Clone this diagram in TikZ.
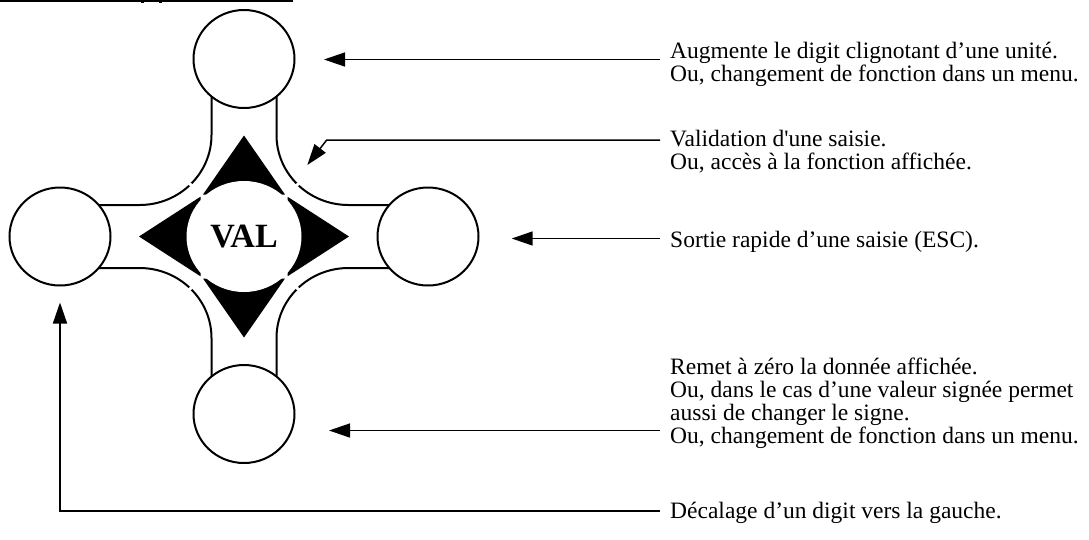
\documentclass[tikz,border=0pt]{standalone}
\usepackage{fontspec}
\setmainfont{Liberation Serif}[Ligatures=TeXOff]
\usetikzlibrary{arrows.meta,shapes.geometric}
\begin{document}
\begin{tikzpicture}[x=1pt,y=-1pt,
  key/.style={ellipse,draw,line width=2pt,fill=white,minimum width=101pt,minimum height=98pt,inner sep=0pt},
  outline/.style={line width=2pt},
  pointer/.style={line width=1.5pt,-{Triangle[length=21pt,width=14pt]}},
  desc/.style={anchor=base west,align=left,inner sep=0pt,font=\fontsize{23.5}{23}\selectfont}]
\useasboundingbox (0,0) rectangle (1089,539);
% remnant of the heading underline
\draw[line width=1.5pt] (0,0.75) -- (293,0.75);
\fill (141,0) rectangle (144,3);
\fill (159,0) rectangle (162,3);
% cross outline
\draw[outline] (211.5,80) -- (211.5,135) arc[start angle=0,end angle=90,x radius=72,y radius=70] -- (80,205);
\draw[outline] (276.5,80) -- (276.5,135) arc[start angle=180,end angle=90,x radius=72,y radius=70] -- (408,205);
\draw[outline] (80,268) -- (139.5,268) arc[start angle=270,end angle=360,x radius=72,y radius=70] -- (211.5,395);
\draw[outline] (276.5,395) -- (276.5,338) arc[start angle=180,end angle=270,x radius=72,y radius=70] -- (408,268);
% black direction triangles
\fill (244,135.5) -- (285,194.5) -- (203,194.5) -- cycle;
\fill (139,236.5) -- (200.5,196.7) -- (200.5,276.3) -- cycle;
\fill (349,236.5) -- (287.5,196.7) -- (287.5,276.3) -- cycle;
\fill (244,337.5) -- (203,278.5) -- (285,278.5) -- cycle;
\draw[white,line width=3pt] (174,168.6) -- (314,304.4);
\draw[white,line width=3pt] (174,304.4) -- (314,168.6);
\node[ellipse,fill=white,minimum width=115pt,minimum height=111pt,inner sep=0pt,font=\fontsize{34}{36}\selectfont\bfseries] (val) at (244,236.5) {VAL};
% keys
\node[key] (up) at (244,59) {};
\node[key] (left) at (60,236.5) {};
\node[key] (right) at (428,236.5) {};
\node[key] (down) at (244,414) {};
% descriptions (base anchor = baseline of the last line)
\node[desc] (t1) at (670,81) {Augmente le digit clignotant d’une unité.\\Ou, changement de fonction dans un menu.};
\node[desc] (t2) at (670,169) {Validation d'une saisie.\\Ou, accès à la fonction affichée.};
\node[desc] (t3) at (670,247) {Sortie rapide d’une saisie (ESC).};
\node[desc] (t4) at (670,443) {Remet à zéro la donnée affichée.\\Ou, dans le cas d’une valeur signée permet\\aussi de changer le signe.\\Ou, changement de fonction dans un menu.};
\node[desc] (t5) at (670,518) {Décalage d’un digit vers la gauche.};
% pointers
\coordinate (s1) at (660,59.5);  \coordinate (e1) at (324,59.5);
\coordinate (s2) at (660,140);   \coordinate (k2) at (326.7,140); \coordinate (e2) at (307.3,165);
\coordinate (s3) at (660,238.5); \coordinate (e3) at (511.7,238.5);
\coordinate (s4) at (660,430.5); \coordinate (e4) at (329,430.5);
\coordinate (s5) at (660,511);   \coordinate (k5) at (60,511); \coordinate (e5) at (60,302.5);
\draw[pointer] (s1) -- (e1);
\draw[pointer] (s2) -- (k2) -- (e2);
\draw[pointer] (s3) -- (e3);
\draw[pointer] (s4) -- (e4);
\draw[pointer] (s5) -- (k5) -- (e5);
\end{tikzpicture}
\end{document}
